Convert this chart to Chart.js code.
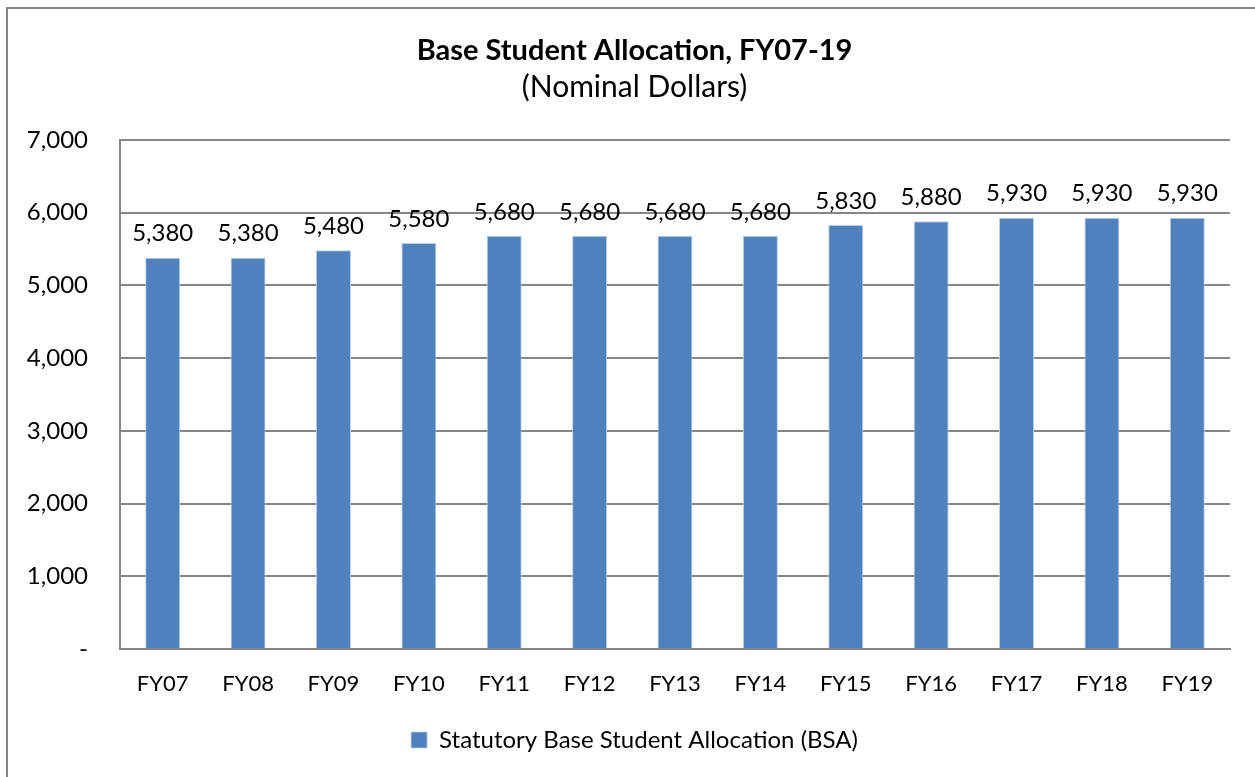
<!DOCTYPE html>
<html>
<head>
<meta charset="utf-8">
<script src="https://cdn.jsdelivr.net/npm/chart.js@4.4.1/dist/chart.umd.min.js"></script>
<style>
html,body{margin:0;padding:0;background:#fff;}
#wrap{position:relative;width:1255px;height:777px;}
</style>
</head>
<body>
<div id="wrap"><canvas id="c" width="1255" height="777"></canvas></div>
<script>
const categories = ["FY07","FY08","FY09","FY10","FY11","FY12","FY13","FY14","FY15","FY16","FY17","FY18","FY19"];
const bsaValues = [5380,5380,5480,5580,5680,5680,5680,5680,5830,5880,5930,5930,5930];
const seriesName = "Statutory Base Student Allocation (BSA)";
const titleText = "Base Student Allocation, FY07-19";
const subtitleText = "(Nominal Dollars)";

const FONT = "Lato, 'Open Sans', sans-serif";
const BAR = "#4F81BD";
const GRID = "#868686";

const fmt = v => v === 0 ? "-" : v.toLocaleString("en-US");

const framePlugin = {
  id: "frame",
  beforeDraw(chart) {
    const ctx = chart.ctx;
    ctx.save();
    ctx.fillStyle = "#fff";
    ctx.fillRect(0, 0, chart.width, chart.height);
    ctx.strokeStyle = GRID;
    ctx.lineWidth = 2;
    ctx.strokeRect(7, 8, 1300, 1000);
    ctx.restore();
  }
};

const labelPlugin = {
  id: "barLabels",
  afterDatasetsDraw(chart) {
    const ctx = chart.ctx;
    const meta = chart.getDatasetMeta(0);
    ctx.save();
    ctx.font = "24px " + FONT;
    ctx.fillStyle = "#000";
    ctx.textAlign = "center";
    ctx.textBaseline = "middle";
    meta.data.forEach((bar, i) => {
      ctx.fillText(fmt(chart.data.datasets[0].data[i]), bar.x, bar.y - 24);
    });
    ctx.restore();
  }
};

new Chart(document.getElementById("c"), {
  type: "bar",
  data: {
    labels: categories,
    datasets: [{
      label: seriesName,
      data: bsaValues,
      backgroundColor: BAR,
      borderColor: "#B9CDE5",
      borderWidth: {left:1,right:1,top:1,bottom:0},
      barPercentage: 0.41,
      categoryPercentage: 1.0
    }]
  },
  options: {
    responsive: false,
    animation: false,
    devicePixelRatio: 1,
    layout: { padding: { left: 14, right: 0, top: 0, bottom: 15 } },
    plugins: {
      title: {
        display: true,
        text: titleText,
        color: "#000",
        font: { family: FONT, size: 29, weight: "bold" },
        padding: { top: 33, bottom: 1 }
      },
      subtitle: {
        display: true,
        text: subtitleText,
        color: "#000",
        font: { family: FONT, size: 30, weight: "normal" },
        padding: { top: 1, bottom: 34 }
      },
      legend: {
        display: true,
        position: "bottom",
        labels: {
          color: "#000",
          font: { family: FONT, size: 24 },
          boxWidth: 16,
          boxHeight: 16,
          padding: 10
        }
      },
      tooltip: { enabled: false }
    },
    scales: {
      x: {
        grid: { display: false, drawTicks: false },
        border: { display: true, color: GRID, width: 2 },
        ticks: { color: "#000", font: { family: FONT, size: 22 }, padding: 22 },
        afterFit(s) { s.height = 69; }
      },
      y: {
        min: 0, max: 7000,
        grid: { color: GRID, lineWidth: 2, drawTicks: false },
        border: { display: true, color: GRID, width: 2 },
        ticks: {
          stepSize: 1000,
          color: "#000",
          font: { family: FONT, size: 24 },
          padding: 32,
          callback: v => fmt(v)
        },
        afterFit(s) { s.width = 106; }
      },
      yRight: {
        position: "right",
        display: true,
        min: 0, max: 7000,
        grid: { display: false, drawTicks: false },
        border: { display: false },
        ticks: { display: false },
        afterFit(s) { s.width = 25; }
      }
    }
  },
  plugins: [framePlugin, labelPlugin]
});
</script>
</body>
</html>
